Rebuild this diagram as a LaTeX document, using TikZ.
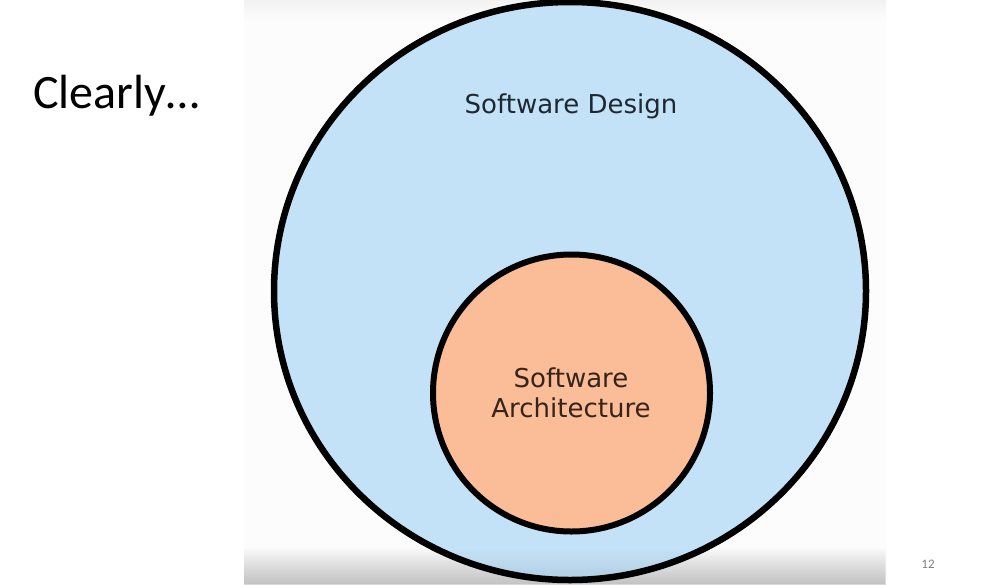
\documentclass[tikz,border=0pt]{standalone}
\usepackage{fontspec}
\setmainfont{DejaVu Sans}
\newfontfamily\calib{Carlito}
\usetikzlibrary{shapes.geometric,fadings}
\definecolor{bluefill}{HTML}{C4E2F7}
\definecolor{orangefill}{HTML}{FBBC98}
\definecolor{txtblue}{HTML}{1E2833}
\definecolor{txtbrown}{HTML}{35241A}
\definecolor{pagenum}{HTML}{808080}
\tikzset{
  ring/.style={draw=black, inner sep=0pt},
  label text/.style={font=\fontsize{26}{30}\selectfont, inner sep=0pt, align=center}
}
\begin{document}
\begin{tikzpicture}[x=1pt,y=-1pt]
\useasboundingbox (0,0) rectangle (998,584);
\fill[white] (0,0) rectangle (998,584);
% embedded picture background
\fill[top color=gray!10, bottom color=white!99!black] (244,0) rectangle (886,22);
\fill[white!99!black] (244,22) rectangle (886,545);
\fill[top color=white!99!black, bottom color=gray!30] (244,545) rectangle (886,584);
\begin{scope}
\clip (244,0) rectangle (886,584);
\node[ring, ellipse, line width=6.5pt, fill=bluefill, minimum width=592pt, minimum height=578pt] (design) at (570,291) {};
\node[ring, circle, line width=6pt, fill=orangefill, minimum size=277pt] (arch) at (571.5,393) {};
\fill[black, opacity=0.1, path fading=north] (244,548) rectangle (886,584);
\end{scope}
\node[label text, text=txtblue, anchor=base] (sdlabel) at (571,113) {Software Design};
\node[label text, text=txtbrown] (salabel) at (571,393) {Software\\Architecture};
\node[anchor=base west, inner sep=0pt, font=\calib\fontsize{48}{56}\selectfont] (title) at (33,108) {Clearly…};
\node[anchor=base, inner sep=0pt, font=\calib\fontsize{13}{15}\selectfont, text=pagenum] (pnum) at (928,568) {12};
\end{tikzpicture}
\end{document}
